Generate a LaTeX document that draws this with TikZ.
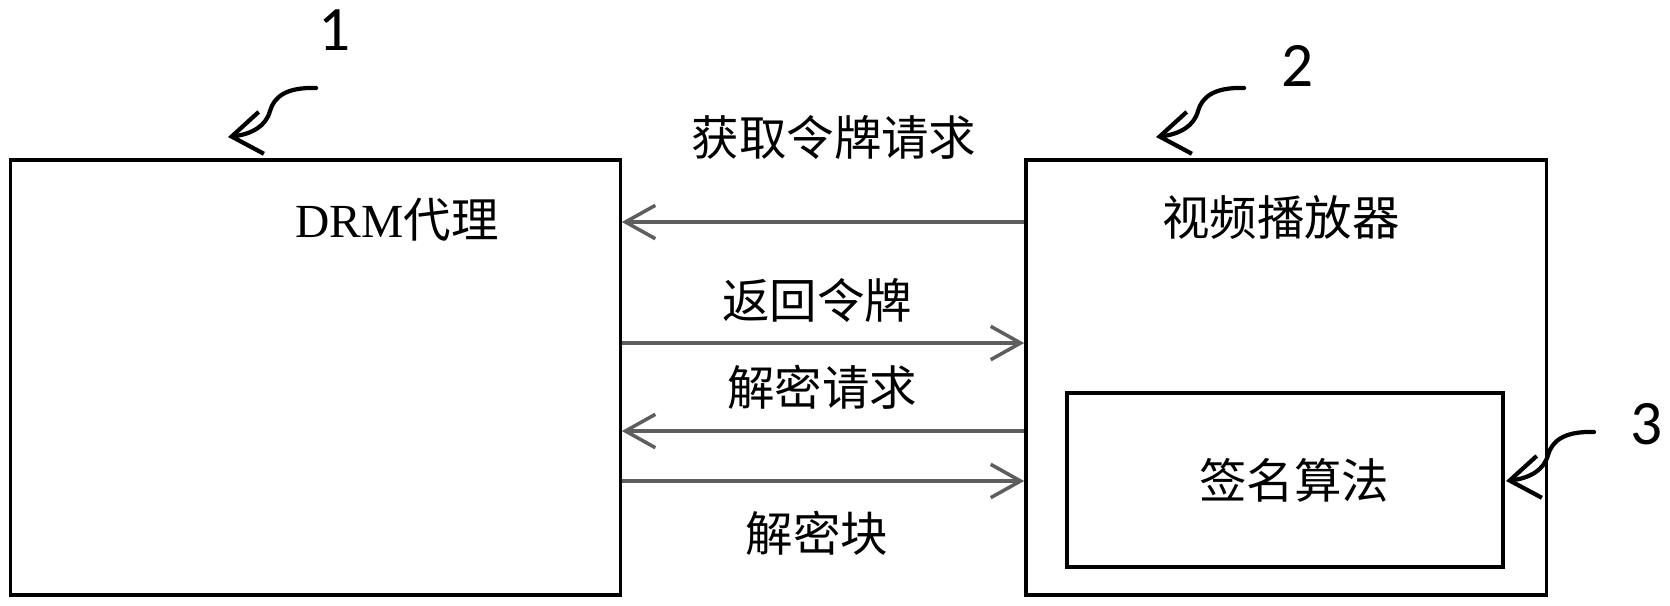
\documentclass[tikz,border=0pt]{standalone}
\usepackage{fontspec}
\setmainfont{Liberation Serif}
\newfontfamily\cjk{Noto Sans CJK SC}
\newfontfamily\digitfont{Carlito}
\usetikzlibrary{arrows.meta}
\definecolor{msggray}{HTML}{5E5E5E}
\tikzset{
  box/.style={draw, line width=0.95pt, inner sep=0pt},
  txt/.style={inner sep=0pt, font=\fontsize{13.5}{16}\selectfont\cjk},
  num/.style={inner sep=0pt, font=\fontsize{18}{20}\selectfont\digitfont},
  msg/.style={draw=msggray, line width=1pt,
    -{Straight Barb[length=8.5pt, width=9.5pt, line width=1pt]}},
  curl/.style={line width=1.2pt, line cap=round,
    -{Straight Barb[length=8.5pt, width=12pt, line width=1.2pt]}}
}
\begin{document}
\begin{tikzpicture}[x=0.01cm, y=-0.01cm]
  \useasboundingbox (0,0) rectangle (1670,605);
  % boxes
  \node[box, minimum width=6.09cm, minimum height=4.35cm] (drm) at (315.5,377.5) {};
  \node[box, minimum width=5.2cm, minimum height=4.35cm] (player) at (1286,377.5) {};
  \node[box, minimum width=4.36cm, minimum height=1.74cm] (sign) at (1285,480) {};
  % box texts
  \node[txt] (drmtext) at (397,220) {{\rmfamily DRM}代理};
  \node[txt] (playertext) at (1281,217) {视频播放器};
  \node[txt] (signtext) at (1294,480) {签名算法};
  % message rows
  \coordinate (row1) at (0,222);
  \coordinate (row2) at (0,343);
  \coordinate (row3) at (0,431);
  \coordinate (row4) at (0,481);
  \draw[msg] (player.west |- row1) -- (drm.east |- row1);
  \draw[msg] (drm.east |- row2) -- (player.west |- row2);
  \draw[msg] (player.west |- row3) -- (drm.east |- row3);
  \draw[msg] (drm.east |- row4) -- (player.west |- row4);
  \node[txt] (gettoken) at (834,137) {获取令牌请求};
  \node[txt] (rettoken) at (817,300) {返回令牌};
  \node[txt] (decreq) at (822,387) {解密请求};
  \node[txt] (decblock) at (817,533) {解密块};
  % reference numbers
  \node[num] (n1) at (335,30) {1};
  \node[num] (n2) at (1298,66) {2};
  \node[num] (n3) at (1647,424) {3};
  \coordinate (c1) at (316,88);
  \coordinate (c2) at (1244,88);
  \coordinate (c3) at (1594,432);
  \foreach \c in {c1,c2,c3}
    \draw[curl] (\c) .. controls +(-30,-1) and +(4,-14) .. ++(-46,23)
      .. controls +(-4,15) and +(24,-3) .. ++(-42,26);
\end{tikzpicture}
\end{document}
